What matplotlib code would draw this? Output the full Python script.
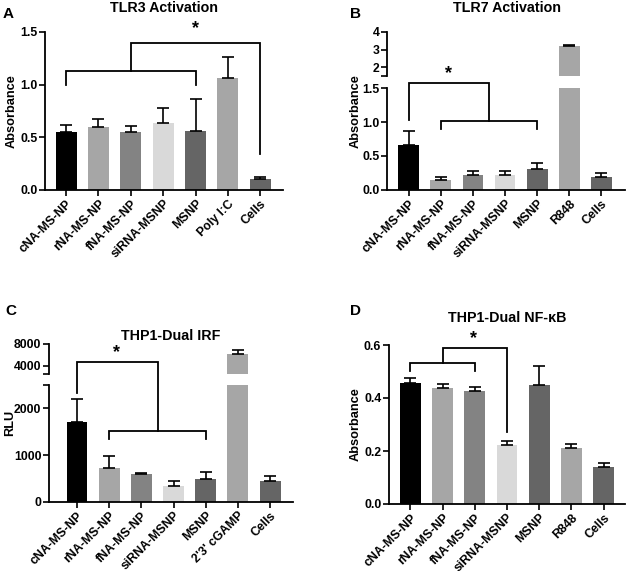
import numpy as np
import matplotlib.pyplot as plt

plt.rcParams['font.family'] = ['Liberation Sans', 'DejaVu Sans']
plt.rcParams['font.weight'] = 'bold'
plt.rcParams['axes.labelweight'] = 'bold'

# data (mean, upper SD)
groups_a = ['cNA-MS-NP', 'rNA-MS-NP', 'fNA-MS-NP', 'siRNA-MSNP', 'MSNP', 'Poly I:C', 'Cells']
tlr3_mean = [0.555, 0.60, 0.552, 0.64, 0.561, 1.06, 0.105]
tlr3_sd = [0.06, 0.07, 0.058, 0.134, 0.30, 0.20, 0.022]

groups_b = ['cNA-MS-NP', 'rNA-MS-NP', 'fNA-MS-NP', 'siRNA-MSNP', 'MSNP', 'R848', 'Cells']
tlr7_mean = [0.664, 0.148, 0.226, 0.226, 0.31, 3.18, 0.197]
tlr7_sd = [0.206, 0.05, 0.06, 0.06, 0.09, 0.1, 0.055]

groups_c = ['cNA-MS-NP', 'rNA-MS-NP', 'fNA-MS-NP', 'siRNA-MSNP', 'MSNP', "2'3' cGAMP", 'Cells']
irf_mean = [1716, 723, 589, 348, 489, 6200, 440]
irf_sd = [490, 250, 20, 100, 150, 750, 120]

groups_d = ['cNA-MS-NP', 'rNA-MS-NP', 'fNA-MS-NP', 'siRNA-MSNP', 'MSNP', 'R848', 'Cells']
nfkb_mean = [0.458, 0.436, 0.427, 0.221, 0.45, 0.21, 0.14]
nfkb_sd = [0.017, 0.015, 0.015, 0.015, 0.072, 0.016, 0.015]

bar_colors = ['#000000', '#a6a6a6', '#838383', '#d9d9d9', '#656565', '#a6a6a6', '#656565']

W, H = 627, 571
fig = plt.figure(figsize=(W / 100, H / 100), dpi=100)

TICK_FS = 8.8
LABEL_FS = 9.2
TITLE_FS = 10.3
LETTER_FS = 11


def box(x0, y0, x1, y1):
    # pixel box (top-left origin) -> figure fraction
    return [x0 / W, 1 - y1 / H, (x1 - x0) / W, (y1 - y0) / H]


def style(ax, bottom=True):
    for s in ['top', 'right']:
        ax.spines[s].set_visible(False)
    ax.spines['left'].set_linewidth(1.3)
    ax.spines['bottom'].set_linewidth(1.3)
    ax.tick_params(direction='out', length=4, width=1.2, labelsize=TICK_FS, pad=1.5)
    ax.patch.set_visible(False)
    if not bottom:
        ax.spines['bottom'].set_visible(False)
        ax.set_xticks([])


def bars(ax, groups, mean, sd):
    x = np.arange(len(groups))
    ax.bar(x, mean, width=0.65, color=bar_colors)
    ax.errorbar(x, mean, yerr=[np.zeros(len(sd)), sd], fmt='none', ecolor='black',
                elinewidth=1.2, capsize=4, capthick=1.2)
    return x


def xlabels(ax, groups):
    ax.set_xticks(np.arange(len(groups)))
    ax.set_xticklabels(groups, rotation=45, ha='right', rotation_mode='anchor', fontsize=TICK_FS)


def bracket(ax, xs, ys):
    ax.plot(xs, ys, color='black', lw=1.3, clip_on=False, solid_joinstyle='miter', zorder=5)


# ---- A
ax = fig.add_axes(box(45, 32, 283, 190))
bars(ax, groups_a, tlr3_mean, tlr3_sd)
style(ax)
xlabels(ax, groups_a)
ax.set_xlim(-0.65, 6.7)
ax.set_ylim(0, 1.5)
ax.set_yticks([0, 0.5, 1.0, 1.5])
ax.set_ylabel('Absorbance', fontsize=LABEL_FS, labelpad=2)
bracket(ax, [0, 0, 4, 4], [1.0, 1.13, 1.13, 1.0])
bracket(ax, [2, 2, 6, 6], [1.13, 1.40, 1.40, 0.34])
ax.text(4, 1.53, '*', ha='center', va='center', fontsize=13)
fig.text(164 / W, 1 - 8 / H, 'TLR3 Activation', ha='center', va='center', fontsize=TITLE_FS)
fig.text(3 / W, 1 - 14 / H, 'A', ha='left', va='center', fontsize=LETTER_FS)

# ---- B (broken y axis)
ax_lo = fig.add_axes(box(387, 88, 625, 190))
ax_hi = fig.add_axes(box(387, 32, 625, 76))
for a in [ax_lo, ax_hi]:
    bars(a, groups_b, tlr7_mean, tlr7_sd)
    a.set_xlim(-0.68, 6.74)
style(ax_lo)
style(ax_hi, bottom=False)
xlabels(ax_lo, groups_b)
ax_lo.set_ylim(0, 1.5)
ax_lo.set_yticks([0, 0.5, 1.0, 1.5])
ax_hi.set_ylim(1.5, 4)
ax_hi.set_yticks([1.5, 2, 3, 4])
ax_hi.set_yticklabels(['', '2', '3', '4'])
bracket(ax_lo, [0, 0, 2.5, 2.5], [1.03, 1.58, 1.58, 1.01])
bracket(ax_lo, [1, 1, 4, 4], [0.9, 1.01, 1.01, 0.9])
ax_lo.text(1.24, 1.71, '*', ha='center', va='center', fontsize=13)
fig.text(356 / W, 1 - 111 / H, 'Absorbance', rotation=90, ha='center', va='center', fontsize=LABEL_FS)
fig.text(507 / W, 1 - 8 / H, 'TLR7 Activation', ha='center', va='center', fontsize=TITLE_FS)
fig.text(350 / W, 1 - 14 / H, 'B', ha='left', va='center', fontsize=LETTER_FS)

# ---- C (broken y axis)
ax_lo = fig.add_axes(box(49, 385, 293, 502))
ax_hi = fig.add_axes(box(49, 344, 293, 374))
for a in [ax_lo, ax_hi]:
    bars(a, groups_c, irf_mean, irf_sd)
    a.set_xlim(-0.87, 6.71)
style(ax_lo)
style(ax_hi, bottom=False)
xlabels(ax_lo, groups_c)
ax_lo.set_ylim(0, 2500)
ax_lo.set_yticks([0, 1000, 2000, 2500])
ax_lo.set_yticklabels(['0', '1000', '2000', ''])
ax_hi.set_ylim(2500, 8000)
ax_hi.set_yticks([2500, 4000, 8000])
ax_hi.set_yticklabels(['', '4000', '8000'])
bracket(ax_lo, [0, 0, 2.52, 2.52], [2320, 2990, 2990, 1518])
bracket(ax_lo, [1, 1, 4, 4], [1350, 1518, 1518, 1350])
ax_lo.text(1.24, 3200, '*', ha='center', va='center', fontsize=13)
fig.text(10 / W, 1 - 423 / H, 'RLU', rotation=90, ha='center', va='center', fontsize=LABEL_FS)
fig.text(171 / W, 1 - 336 / H, 'THP1-Dual IRF', ha='center', va='center', fontsize=TITLE_FS)
fig.text(5 / W, 1 - 311 / H, 'C', ha='left', va='center', fontsize=LETTER_FS)

# ---- D
ax = fig.add_axes(box(389, 345, 625, 504))
bars(ax, groups_d, nfkb_mean, nfkb_sd)
style(ax)
xlabels(ax, groups_d)
ax.set_xlim(-0.66, 6.66)
ax.set_ylim(0, 0.6)
ax.set_yticks([0, 0.2, 0.4, 0.6])
ax.set_ylabel('Absorbance', fontsize=LABEL_FS, labelpad=2)
bracket(ax, [0, 0, 2, 2], [0.503, 0.533, 0.533, 0.503])
bracket(ax, [1, 1, 3, 3], [0.533, 0.59, 0.59, 0.27])
ax.text(1.96, 0.625, '*', ha='center', va='center', fontsize=13)
fig.text(507 / W, 1 - 318 / H, 'THP1-Dual NF-\u03baB', ha='center', va='center', fontsize=TITLE_FS)
fig.text(350 / W, 1 - 311 / H, 'D', ha='left', va='center', fontsize=LETTER_FS)

fig.savefig('out.png', dpi=100)
